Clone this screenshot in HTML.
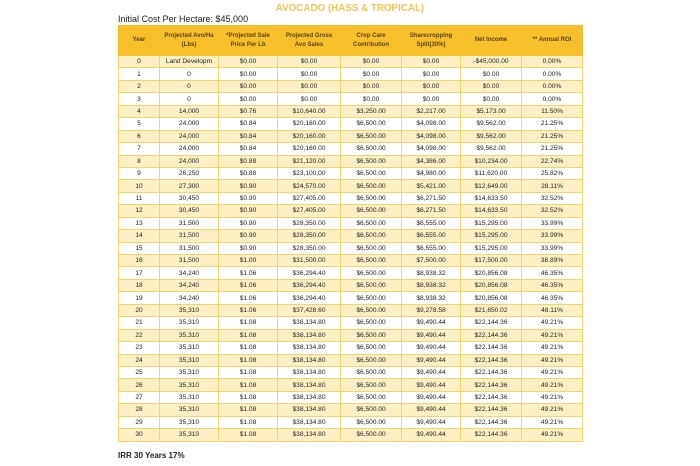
<!DOCTYPE html>
<html><head><style>
body{margin:0;width:700px;height:466px;background:#fff;font-family:"Liberation Sans",sans-serif;position:relative;overflow:hidden}
.t{position:absolute;left:0;top:3px;width:700px;text-align:center;color:#ebc65e;font-weight:bold;font-size:9.8px}
.i{position:absolute;left:118px;top:14px;font-size:9px;color:#222}
.irr{position:absolute;left:118px;top:451px;font-size:8px;font-weight:bold;color:#222}
table{position:absolute;left:118px;top:25px;width:464px;border-collapse:collapse;table-layout:fixed;font-size:6.6px;color:#222}
td{border:1px solid #f2d570;text-align:center;height:11.45px;padding:0;white-space:nowrap;overflow:hidden}
th{background:#f7bf2a;border:1px solid #f7bf2a;font-size:6px;font-weight:bold;color:#5a4300;height:29px;padding:0;line-height:9px}
tr:nth-child(even) td{background:#fdf1c4}
tr:nth-child(odd) td{background:#fff}
</style></head><body>
<div class="t">AVOCADO (HASS &amp; TROPICAL)</div>
<div class="i">Initial Cost Per Hectare: $45,000</div>
<table>
<colgroup><col style="width:41px"><col style="width:59px"><col style="width:59px"><col style="width:63px"><col style="width:61px"><col style="width:59px"><col style="width:61px"><col style="width:61px"></colgroup>
<tr><th>Year</th><th>Projected Avo/Ha<br>(Lbs)</th><th>*Projected Sale<br>Price Per Lb</th><th>Projected Gross<br>Avo Sales</th><th>Crop Care<br>Contribution</th><th>Sharecropping<br>Split(30%)</th><th>Net Income</th><th>** Annual ROI</th></tr>
<tr><td>0</td><td>Land Developm</td><td>$0.00</td><td>$0.00</td><td>$0.00</td><td>$0.00</td><td>-$45,000.00</td><td>0.00%</td></tr>
<tr><td>1</td><td>0</td><td>$0.00</td><td>$0.00</td><td>$0.00</td><td>$0.00</td><td>$0.00</td><td>0.00%</td></tr>
<tr><td>2</td><td>0</td><td>$0.00</td><td>$0.00</td><td>$0.00</td><td>$0.00</td><td>$0.00</td><td>0.00%</td></tr>
<tr><td>3</td><td>0</td><td>$0.00</td><td>$0.00</td><td>$0.00</td><td>$0.00</td><td>$0.00</td><td>0.00%</td></tr>
<tr><td>4</td><td>14,000</td><td>$0.76</td><td>$10,640.00</td><td>$3,250.00</td><td>$2,217.00</td><td>$5,173.00</td><td>11.50%</td></tr>
<tr><td>5</td><td>24,000</td><td>$0.84</td><td>$20,160.00</td><td>$6,500.00</td><td>$4,098.00</td><td>$9,562.00</td><td>21.25%</td></tr>
<tr><td>6</td><td>24,000</td><td>$0.84</td><td>$20,160.00</td><td>$6,500.00</td><td>$4,098.00</td><td>$9,562.00</td><td>21.25%</td></tr>
<tr><td>7</td><td>24,000</td><td>$0.84</td><td>$20,160.00</td><td>$6,500.00</td><td>$4,098.00</td><td>$9,562.00</td><td>21.25%</td></tr>
<tr><td>8</td><td>24,000</td><td>$0.88</td><td>$21,120.00</td><td>$6,500.00</td><td>$4,386.00</td><td>$10,234.00</td><td>22.74%</td></tr>
<tr><td>9</td><td>26,250</td><td>$0.88</td><td>$23,100.00</td><td>$6,500.00</td><td>$4,980.00</td><td>$11,620.00</td><td>25.82%</td></tr>
<tr><td>10</td><td>27,300</td><td>$0.90</td><td>$24,570.00</td><td>$6,500.00</td><td>$5,421.00</td><td>$12,649.00</td><td>28.11%</td></tr>
<tr><td>11</td><td>30,450</td><td>$0.90</td><td>$27,405.00</td><td>$6,500.00</td><td>$6,271.50</td><td>$14,633.50</td><td>32.52%</td></tr>
<tr><td>12</td><td>30,450</td><td>$0.90</td><td>$27,405.00</td><td>$6,500.00</td><td>$6,271.50</td><td>$14,633.50</td><td>32.52%</td></tr>
<tr><td>13</td><td>31,500</td><td>$0.90</td><td>$28,350.00</td><td>$6,500.00</td><td>$6,555.00</td><td>$15,295.00</td><td>33.99%</td></tr>
<tr><td>14</td><td>31,500</td><td>$0.90</td><td>$28,350.00</td><td>$6,500.00</td><td>$6,555.00</td><td>$15,295.00</td><td>33.99%</td></tr>
<tr><td>15</td><td>31,500</td><td>$0.90</td><td>$28,350.00</td><td>$6,500.00</td><td>$6,555.00</td><td>$15,295.00</td><td>33.99%</td></tr>
<tr><td>16</td><td>31,500</td><td>$1.00</td><td>$31,500.00</td><td>$6,500.00</td><td>$7,500.00</td><td>$17,500.00</td><td>38.89%</td></tr>
<tr><td>17</td><td>34,240</td><td>$1.06</td><td>$36,294.40</td><td>$6,500.00</td><td>$8,938.32</td><td>$20,856.08</td><td>46.35%</td></tr>
<tr><td>18</td><td>34,240</td><td>$1.06</td><td>$36,294.40</td><td>$6,500.00</td><td>$8,938.32</td><td>$20,856.08</td><td>46.35%</td></tr>
<tr><td>19</td><td>34,240</td><td>$1.06</td><td>$36,294.40</td><td>$6,500.00</td><td>$8,938.32</td><td>$20,856.08</td><td>46.35%</td></tr>
<tr><td>20</td><td>35,310</td><td>$1.06</td><td>$37,428.60</td><td>$6,500.00</td><td>$9,278.58</td><td>$21,650.02</td><td>48.11%</td></tr>
<tr><td>21</td><td>35,310</td><td>$1.08</td><td>$38,134.80</td><td>$6,500.00</td><td>$9,490.44</td><td>$22,144.36</td><td>49.21%</td></tr>
<tr><td>22</td><td>35,310</td><td>$1.08</td><td>$38,134.80</td><td>$6,500.00</td><td>$9,490.44</td><td>$22,144.36</td><td>49.21%</td></tr>
<tr><td>23</td><td>35,310</td><td>$1.08</td><td>$38,134.80</td><td>$6,500.00</td><td>$9,490.44</td><td>$22,144.36</td><td>49.21%</td></tr>
<tr><td>24</td><td>35,310</td><td>$1.08</td><td>$38,134.80</td><td>$6,500.00</td><td>$9,490.44</td><td>$22,144.36</td><td>49.21%</td></tr>
<tr><td>25</td><td>35,310</td><td>$1.08</td><td>$38,134.80</td><td>$6,500.00</td><td>$9,490.44</td><td>$22,144.36</td><td>49.21%</td></tr>
<tr><td>26</td><td>35,310</td><td>$1.08</td><td>$38,134.80</td><td>$6,500.00</td><td>$9,490.44</td><td>$22,144.36</td><td>49.21%</td></tr>
<tr><td>27</td><td>35,310</td><td>$1.08</td><td>$38,134.80</td><td>$6,500.00</td><td>$9,490.44</td><td>$22,144.36</td><td>49.21%</td></tr>
<tr><td>28</td><td>35,310</td><td>$1.08</td><td>$38,134.80</td><td>$6,500.00</td><td>$9,490.44</td><td>$22,144.36</td><td>49.21%</td></tr>
<tr><td>29</td><td>35,310</td><td>$1.08</td><td>$38,134.80</td><td>$6,500.00</td><td>$9,490.44</td><td>$22,144.36</td><td>49.21%</td></tr>
<tr><td>30</td><td>35,310</td><td>$1.08</td><td>$38,134.80</td><td>$6,500.00</td><td>$9,490.44</td><td>$22,144.36</td><td>49.21%</td></tr>
</table>
<div class="irr">IRR 30 Years 17%</div>
</body></html>
